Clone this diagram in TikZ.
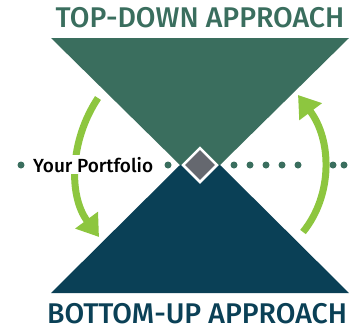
\documentclass[tikz,border=0pt]{standalone}
\usepackage{fontspec}
\setmainfont{Fira Sans}
\newfontfamily\medium{Fira Sans Medium}
\usetikzlibrary{arrows.meta,shapes.geometric}
\definecolor{topgreen}{RGB}{58,110,94}
\definecolor{bottomblue}{RGB}{10,64,86}
\definecolor{arrowgreen}{RGB}{141,198,63}
\definecolor{diamondgrey}{RGB}{101,104,111}
\tikzset{
	title/.style={font=\medium\fontsize{28.5}{30}\selectfont, anchor=base, inner sep=0pt},
	dot/.style={circle, fill=topgreen, minimum size=7pt, inner sep=0pt},
	turn/.style={arrowgreen, line width=7pt, -{Triangle[length=21pt,width=27pt]}}
}
\begin{document}
\begin{tikzpicture}[x=1pt,y=-1pt]
	\useasboundingbox (0,0) rectangle (356,330);
	\fill[topgreen] (51,38) -- (349,38) -- (220,165) -- (180,165) -- cycle;
	\fill[bottomblue] (180,165) -- (220,165) -- (349,293) -- (51,293) -- cycle;
	
	\node[title, text=topgreen] (top) at (200,27) {TOP-DOWN APPROACH};
	\node[title, text=bottomblue] (bottom) at (197,323) {BOTTOM-UP APPROACH};
	
	\foreach \x [count=\i] in {21,168,234,250,266,282,298,333,344}{
		\node[dot] (d\i) at (\x,165) {};
	};
	
	\coordinate (lstart) at (98,98);
	\coordinate (lend) at (99,237);
	\coordinate (rstart) at (303,232);
	\coordinate (rend) at (298,95);
	\draw[turn] (lstart) .. controls (70,140) and (68,195) .. (lend);
	\draw[turn] (rstart) .. controls (333,195) and (332,140) .. (rend);
	
	\node[fill=white, inner sep=2pt, anchor=base west, font=\medium\fontsize{19}{21}\selectfont] (portfolio) at (31,172) {Your Portfolio};
	\node[diamond, fill=diamondgrey, draw=white, line width=2.5pt, minimum size=35pt, inner sep=0pt] (core) at (200,165) {};
\end{tikzpicture}
\end{document}
